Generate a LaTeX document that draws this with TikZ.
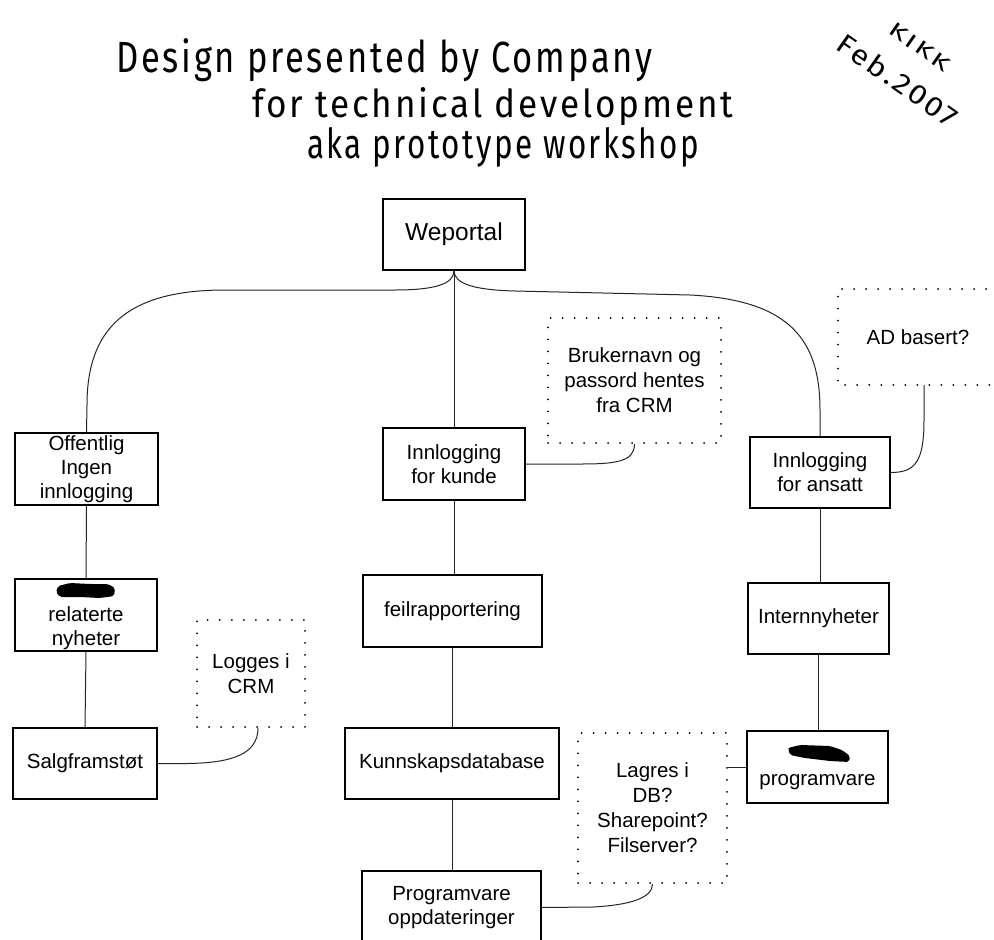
\documentclass[tikz,border=0pt]{standalone}
\usepackage{fontspec}
\setmainfont{Liberation Sans}
\newfontfamily\handfont[LetterSpace=8]{Fira Sans}
\begin{document}
\begin{tikzpicture}[x=1pt,y=-1pt,
  box/.style={draw=black, line width=1.3pt, fill=white, align=center, inner sep=0pt,
    font=\fontsize{20.5}{24}\selectfont},
  note/.style={draw=black, line width=2pt, dash pattern=on 0.01pt off 12pt, line cap=round,
    align=center, inner sep=0pt, font=\fontsize{20.5}{25}\selectfont},
  dots/.style={draw=black, line width=2pt, dash pattern=on 0.01pt off 12pt, line cap=round},
  link/.style={draw=black!85, line width=1pt},
  hand/.style={anchor=base west, inner sep=0pt},
  blot/.style={fill=black, rounded corners=2pt},
]
\useasboundingbox (0,0) rectangle (994,940);

% handwritten heading
\node[hand] (t1) at (116,72) {\resizebox{536pt}{34pt}{\handfont Design presented by Company}};
\node[hand] (t2) at (252,117) {\resizebox{481pt}{30pt}{\handfont for technical development}};
\node[hand] (t3) at (307,158) {\resizebox{392pt}{31pt}{\handfont aka prototype workshop}};
\node[rotate=-35, inner sep=0pt] (kikk) at (920,47) {\resizebox{70pt}{14pt}{\handfont KIKK}};
\node[rotate=-35, inner sep=0pt] (date) at (898,80) {\resizebox{140pt}{21pt}{\handfont Feb.2007}};

% portal and the three entry points
\node[box, minimum width=142, minimum height=71, font=\fontsize{24.5}{28}\selectfont] (wep) at (454,234.5) {Weportal};
\node[box, minimum width=143, minimum height=72] (off) at (86.5,469) {Offentlig\\Ingen\\innlogging};
\node[box, minimum width=142, minimum height=72] (kunde) at (454,464) {Innlogging\\for kunde};
\node[box, minimum width=140, minimum height=71] (ans) at (820,472.5) {Innlogging\\for ansatt};

% notes
\node[note, minimum width=173, minimum height=125] (bruk) at (634.5,380.5) {Brukernavn og\\passord hentes\\fra CRM};
\node[inner sep=0pt, minimum width=160, minimum height=96, font=\fontsize{20.5}{24}\selectfont] (ad) at (918,337) {AD basert?};
\draw[dots] (ad.north east) -- (ad.north west) -- (ad.south west) -- (ad.south east);
\coordinate (adlink) at (924,385);
\node[note, minimum width=108, minimum height=107] (logg) at (251,673.5) {Logges i\\CRM};
\node[note, minimum width=149, minimum height=150] (lag) at (652.5,808) {Lagres i\\DB?\\Sharepoint?\\Filserver?};

% second and third rows
\node[box, minimum width=142, minimum height=72] (rel) at (86,615) {\strut\\relaterte\\nyheter};
\node[box, minimum width=144, minimum height=71] (salg) at (85,763.5) {Salgframstøt};
\node[box, minimum width=179, minimum height=72] (feil) at (452.5,611) {feilrapportering};
\node[box, minimum width=214, minimum height=71] (kunn) at (452,763.5) {Kunnskapsdatabase};
\node[box, minimum width=179, minimum height=73] (prog) at (451.5,907.5) {Programvare\\oppdateringer};
\node[box, minimum width=141, minimum height=71] (intern) at (818.5,618.5) {Internnyheter};
\node[box, minimum width=141, minimum height=72] (prv) at (817.5,767) {\strut\\programvare};

% struck-out words
\fill[blot] (58,586) -- (70,583) -- (90,584) -- (108,584) -- (115,588) -- (114,596) -- (100,598) -- (80,597) -- (60,597) -- (56,592) -- cycle;
\fill[blot] (788,748) -- (800,745) -- (830,746) -- (842,750) -- (850,756) -- (849,762) -- (830,761) -- (805,758) -- (790,755) -- cycle;

% connectors
\draw[link] (wep.south) -- (kunde.north);
\draw[link] (wep.south) .. controls (454,284) and (435,290) .. (395,290) -- (225,290)
  .. controls (125,290) and (87,330) .. (87,405) -- (off.north);
\draw[link] (wep.south) .. controls (454,284) and (475,290) .. (515,291) -- (690,295)
  .. controls (790,300) and (820,340) .. (820,410) -- (ans.north);
\draw[link] (bruk.south) .. controls (634.5,462) and (615,464) .. (580,464) -- (kunde.east);
\draw[link] (adlink) -- (924,420) .. controls (924,462) and (915,472.5) .. (ans.east);
\draw[link] (off.south) -- (rel.north);
\draw[link] (rel.south) -- (salg.north);
\draw[link] (salg.east) -- (187,763.5) .. controls (230,763) and (258,755) .. ([xshift=7pt]logg.south);
\draw[link] (kunde.south) -- (kunde.south |- feil.north);
\draw[link] (feil.south) -- (feil.south |- kunn.north);
\draw[link] (kunn.south) -- (kunn.south |- prog.north);
\draw[link] (prog.east) -- (593,907) .. controls (630,905) and (652.5,898) .. (lag.south);
\draw[link] (lag.east |- prv.west) -- (prv.west);
\draw[link] (ans.south) -- (ans.south |- intern.north);
\draw[link] (intern.south) -- (intern.south |- prv.north);
\end{tikzpicture}
\end{document}
